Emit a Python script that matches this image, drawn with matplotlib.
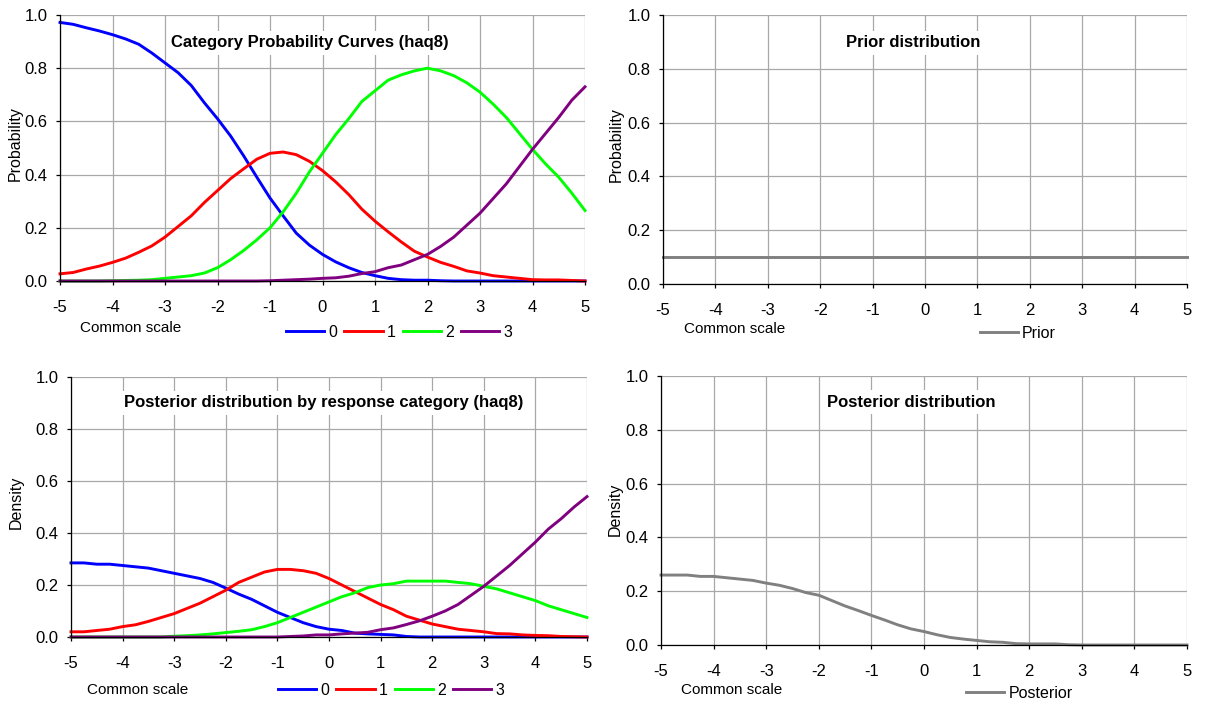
import numpy as np
import matplotlib
matplotlib.use('Agg')
import matplotlib.pyplot as plt
from matplotlib.ticker import FormatStrFormatter

plt.rcParams['font.family'] = ['Liberation Sans', 'DejaVu Sans']
plt.rcParams['axes.unicode_minus'] = False

# common scale, step 0.25
theta = np.arange(-5, 5.01, 0.25)

# category probability curves (haq8)
cpc_0 = [0.972, 0.965, 0.952, 0.94, 0.926, 0.91, 0.89, 0.857, 0.82, 0.783, 0.735, 0.67,
         0.61, 0.545, 0.47, 0.39, 0.312, 0.245, 0.18, 0.135, 0.1, 0.072, 0.05, 0.032,
         0.02, 0.01, 0.005, 0.003, 0.003, 0.001, 0, 0, 0, 0, 0, 0, 0, 0, 0, 0, 0]
cpc_1 = [0.027, 0.032, 0.045, 0.056, 0.07, 0.086, 0.108, 0.132, 0.165, 0.205, 0.245, 0.295,
         0.34, 0.385, 0.422, 0.458, 0.48, 0.485, 0.475, 0.45, 0.415, 0.373, 0.325, 0.27,
         0.225, 0.185, 0.147, 0.112, 0.09, 0.07, 0.055, 0.038, 0.03, 0.02, 0.015, 0.01,
         0.005, 0.004, 0.004, 0.002, 0.0]
cpc_2 = [0, 0, 0, 0, 0.001, 0.002, 0.003, 0.005, 0.01, 0.015, 0.02, 0.03,
         0.05, 0.08, 0.115, 0.155, 0.2, 0.26, 0.33, 0.41, 0.48, 0.55, 0.61, 0.675,
         0.715, 0.755, 0.775, 0.79, 0.8, 0.79, 0.772, 0.745, 0.71, 0.665, 0.615, 0.555,
         0.495, 0.44, 0.39, 0.33, 0.265]
cpc_3 = [0, 0, 0, 0, 0, 0, 0, 0, 0, 0, 0, 0,
         0, 0, 0, 0, 0.001, 0.003, 0.005, 0.007, 0.01, 0.012, 0.018, 0.028,
         0.035, 0.05, 0.06, 0.08, 0.1, 0.13, 0.165, 0.21, 0.255, 0.31, 0.365, 0.43,
         0.495, 0.555, 0.615, 0.68, 0.73]

# prior
prior = [0.1] * len(theta)

# posterior by response category (haq8)
post_0 = [0.285, 0.285, 0.28, 0.28, 0.275, 0.27, 0.265, 0.255, 0.245, 0.235, 0.225, 0.21,
          0.188, 0.165, 0.145, 0.12, 0.095, 0.075, 0.055, 0.04, 0.03, 0.025, 0.015, 0.012,
          0.01, 0.008, 0.002, 0, 0, 0, 0, 0, 0, 0, 0, 0, 0, 0, 0, 0, 0]
post_1 = [0.02, 0.02, 0.025, 0.03, 0.04, 0.047, 0.06, 0.075, 0.09, 0.11, 0.13, 0.155,
          0.18, 0.21, 0.23, 0.25, 0.26, 0.26, 0.255, 0.245, 0.225, 0.2, 0.175, 0.15,
          0.125, 0.105, 0.08, 0.065, 0.05, 0.04, 0.03, 0.025, 0.02, 0.013, 0.012, 0.008,
          0.006, 0.005, 0.002, 0.001, 0.0]
post_2 = [0, 0, 0, 0, 0, 0, 0, 0, 0.003, 0.005, 0.008, 0.012,
          0.017, 0.022, 0.028, 0.04, 0.055, 0.075, 0.095, 0.115, 0.135, 0.155, 0.17, 0.19,
          0.2, 0.205, 0.215, 0.215, 0.215, 0.215, 0.21, 0.205, 0.195, 0.185, 0.17, 0.155,
          0.14, 0.12, 0.105, 0.09, 0.075]
post_3 = [0, 0, 0, 0, 0, 0, 0, 0, 0, 0, 0, 0,
          0, 0, 0, 0, 0, 0.002, 0.004, 0.008, 0.008, 0.012, 0.015, 0.018,
          0.028, 0.035, 0.048, 0.062, 0.08, 0.1, 0.125, 0.16, 0.195, 0.235, 0.275, 0.32,
          0.365, 0.415, 0.455, 0.5, 0.54]

# posterior
posterior = [0.26, 0.26, 0.26, 0.255, 0.255, 0.25, 0.245, 0.24, 0.23, 0.222, 0.21, 0.195,
             0.185, 0.165, 0.145, 0.128, 0.11, 0.093, 0.075, 0.06, 0.05, 0.038, 0.028, 0.022,
             0.017, 0.012, 0.01, 0.005, 0.004, 0.004, 0.004, 0.001, 0, 0, 0, 0, 0, 0, 0, 0, 0]

cat_colors = ['#0000ff', '#ff0000', '#00ff00', '#800080']
cat_labels = ['0', '1', '2', '3']

W, H = 1207, 704
fig = plt.figure(figsize=(W / 100, H / 100), dpi=100)


def make_ax(x0, x1, ytop, ybot):
    ax = fig.add_axes([x0 / W, 1 - ybot / H, (x1 - x0) / W, (ybot - ytop) / H])
    ax.set_xlim(-5, 5)
    ax.set_ylim(0, 1)
    ax.set_xticks(range(-5, 6))
    ax.set_yticks(np.arange(0, 1.01, 0.2))
    ax.yaxis.set_major_formatter(FormatStrFormatter('%.1f'))
    ax.grid(True, color='#a8a8a8', lw=0.9)
    ax.set_axisbelow(True)
    for s in ['top', 'right']:
        ax.spines[s].set_visible(False)
    ax.spines['left'].set_linewidth(0.9)
    ax.spines['bottom'].set_linewidth(0.9)
    ax.tick_params(labelsize=12, length=3, width=0.9)
    ax.tick_params(axis='x', pad=11)
    ax.tick_params(axis='y', pad=6)
    return ax


def decorate(ax, title, tx, ty, ylabel, lx, ly, cx, cy):
    ax.text(tx, ty, title, transform=ax.transAxes, ha='center', va='center',
            fontsize=12, fontweight='bold', zorder=5,
            bbox=dict(facecolor='white', edgecolor='none', pad=3))
    ax.set_ylabel(ylabel, fontsize=11.5)
    ax.yaxis.set_label_coords(lx, ly)
    ax.text(cx, cy, 'Common scale', transform=ax.transAxes, ha='center', va='center',
            fontsize=11)


leg_kw = dict(frameon=False, fontsize=11.5, handlelength=2.4, handletextpad=0.25,
              columnspacing=0.45, borderaxespad=0, borderpad=0)

# top left
ax1 = make_ax(60, 585, 15, 281)
for y, c, l in zip([cpc_0, cpc_1, cpc_2, cpc_3], cat_colors, cat_labels):
    ax1.plot(theta, y, color=c, lw=2.1, label=l, clip_on=False)
decorate(ax1, 'Category Probability Curves (haq8)', 0.476, 0.895, 'Probability',
         -0.07, 0.515, 0.135, -0.177)
ax1.legend(ncol=4, loc='center', bbox_to_anchor=(0.646, -0.192), **leg_kw)

# top right
ax2 = make_ax(663, 1187, 15, 284)
ax2.plot(theta, prior, color='#808080', lw=2.1, label='Prior', clip_on=False)
decorate(ax2, 'Prior distribution', 0.477, 0.896, 'Probability',
         -0.074, 0.52, 0.137, -0.167)
ax2.legend(loc='center', bbox_to_anchor=(0.677, -0.183), **leg_kw)

# bottom left
ax3 = make_ax(71, 587, 377, 637)
for y, c, l in zip([post_0, post_1, post_2, post_3], cat_colors, cat_labels):
    ax3.plot(theta, y, color=c, lw=2.1, label=l, clip_on=False)
decorate(ax3, 'Posterior distribution by response category (haq8)', 0.49, 0.9, 'Density',
         -0.091, 0.519, 0.13, -0.204)
ax3.legend(ncol=4, loc='center', bbox_to_anchor=(0.62, -0.204), **leg_kw)

# bottom right
ax4 = make_ax(661, 1187, 376, 645)
ax4.plot(theta, posterior, color='#808080', lw=2.1, label='Posterior', clip_on=False)
decorate(ax4, 'Posterior distribution', 0.475, 0.903, 'Density',
         -0.072, 0.506, 0.135, -0.167)
ax4.legend(loc='center', bbox_to_anchor=(0.681, -0.18), **leg_kw)

fig.savefig('out.png', dpi=100, facecolor='white')
